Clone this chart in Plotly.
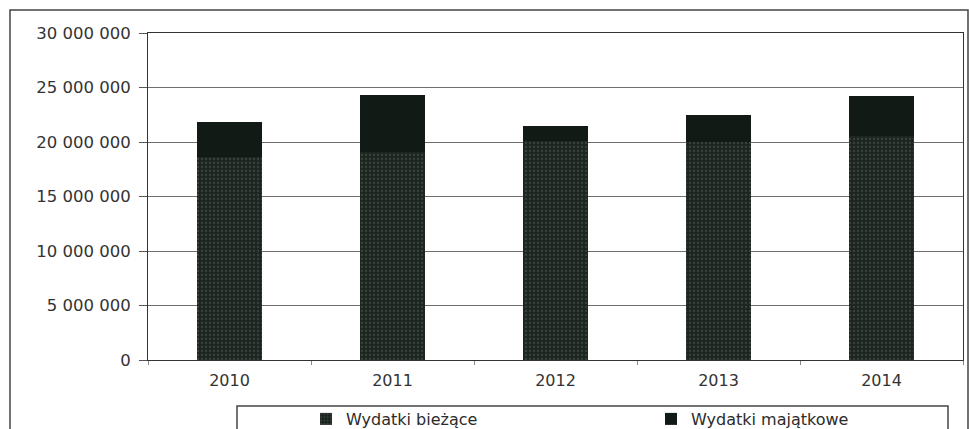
import plotly.graph_objects as go

years = ["2010", "2011", "2012", "2013", "2014"]
biezace = [18600000, 19100000, 20100000, 20000000, 20550000]
majatkowe = [3200000, 5200000, 1400000, 2500000, 3650000]
series_names = ["Wydatki bieżące", "Wydatki majątkowe"]
y_ticks = [0, 5000000, 10000000, 15000000, 20000000, 25000000, 30000000]

W, H = 969, 429
L, R, T, B = 148, 6, 33, 69
pw, ph = W - L - R, H - T - B

def px_x(p):
    return (p - L) / pw

def px_y(p):
    return (H - B - p) / ph

fig = go.Figure()
fig.add_trace(go.Bar(
    x=years, y=biezace, name=series_names[0],
    marker=dict(color="#1c251f", line=dict(width=0),
                pattern=dict(shape=".", fgcolor="#55625a", bgcolor="#1c251f", size=4, solidity=0.25)),
    width=0.4,
))
fig.add_trace(go.Bar(
    x=years, y=majatkowe, name=series_names[1],
    marker=dict(color="#111a14", line=dict(width=0)),
    width=0.4,
))

font_family = "DejaVu Sans, Verdana, sans-serif"
fig.update_layout(
    barmode="stack",
    width=W, height=H,
    margin=dict(l=L, r=R, t=T, b=B, pad=0, autoexpand=False),
    paper_bgcolor="white", plot_bgcolor="white",
    separators=", ",
    font=dict(family=font_family, size=15, color="#333333"),
    showlegend=True,
    legend=dict(orientation="h", xref="container", yref="container",
                x=306 / W, y=1 - 402 / H, xanchor="left", yanchor="top",
                entrywidth=300, traceorder="normal",
                font=dict(family=font_family, size=16, color="#2b2b2b"),
                bgcolor="rgba(0,0,0,0)", itemwidth=30),
    xaxis=dict(type="category", showgrid=False, showline=True, linecolor="#333333", linewidth=1,
               ticks="outside", tickson="boundaries", ticklen=4, tickcolor="#888888",
               ticklabelstandoff=6,
               mirror=True, range=[-0.5, 4.5], fixedrange=True,
               tickfont=dict(size=16)),
    yaxis=dict(range=[0, 30000000], tickvals=y_ticks, tickformat=",d",
               showgrid=True, gridcolor="#6f6f6f", gridwidth=1,
               showline=True, linecolor="#333333", linewidth=1, mirror=True,
               ticks="outside", ticklen=8, tickcolor="#555555", ticklabelstandoff=5,
               zeroline=False, fixedrange=True, tickfont=dict(size=16.5)),
    shapes=[
        dict(type="rect", xref="paper", yref="paper",
             x0=px_x(10), x1=px_x(968), y0=px_y(440), y1=px_y(10),
             line=dict(color="#444444", width=1.5), fillcolor="rgba(0,0,0,0)", layer="below"),
        dict(type="rect", xref="paper", yref="paper",
             x0=px_x(237), x1=px_x(948), y0=px_y(440), y1=px_y(406),
             line=dict(color="#444444", width=1.5), fillcolor="rgba(0,0,0,0)", layer="below"),
    ],
)

fig.write_html("out.html")
